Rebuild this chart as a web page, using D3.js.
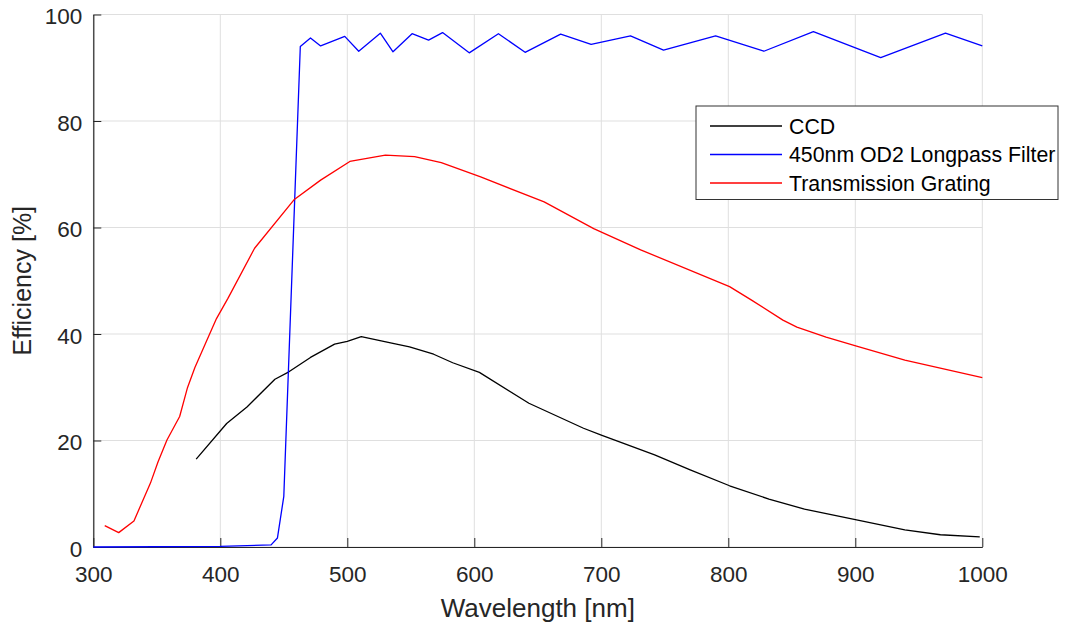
<!DOCTYPE html>
<html>
<head>
<meta charset="utf-8">
<script src="https://cdn.jsdelivr.net/npm/d3@7/dist/d3.min.js"></script>
<style>
  html, body { margin: 0; padding: 0; background: #fff; }
  svg { display: block; font-family: "Liberation Sans", Arial, Helvetica, sans-serif; }
</style>
</head>
<body>
<svg id="chart" width="1068" height="625"></svg>
<script>
// ---- data ----
const xTicks = [300, 400, 500, 600, 700, 800, 900, 1000];
const yTicks = [0, 20, 40, 60, 80, 100];

const ccdWl  = [381, 405, 421, 443, 454, 471, 490, 500, 511, 535, 549, 568, 583, 604, 643, 686, 700, 742, 770, 801, 832, 860, 901, 939, 967, 998];
const ccdEff = [16.5, 23.2, 26.3, 31.5, 32.9, 35.6, 38.1, 38.6, 39.5, 38.3, 37.6, 36.2, 34.6, 32.8, 27.0, 22.3, 21.0, 17.3, 14.5, 11.5, 9.0, 7.1, 5.1, 3.2, 2.3, 1.9];

const filterWl  = [300, 400, 440, 445, 450, 463, 471, 479, 498, 509, 526, 536, 551, 564, 575, 596, 619, 640, 668, 692, 723, 749, 790, 828, 867, 920, 971, 1000];
const filterEff = [0.0, 0.1, 0.4, 1.7, 9.5, 94.0, 95.6, 94.1, 95.9, 93.1, 96.5, 93.0, 96.4, 95.2, 96.6, 92.8, 96.4, 92.9, 96.3, 94.4, 96.0, 93.3, 96.0, 93.1, 96.8, 91.9, 96.5, 94.1];

const gratingWl  = [309, 320, 332, 345, 351, 358, 368, 374, 380, 389, 397, 406, 427, 458, 479, 502, 530, 553, 574, 605, 655, 694, 731, 801, 818, 843, 854, 877, 901, 939, 1000];
const gratingEff = [4.0, 2.7, 4.9, 12.0, 16.0, 20.1, 24.5, 29.8, 33.7, 38.6, 42.9, 46.7, 56.1, 65.2, 68.9, 72.4, 73.6, 73.3, 72.2, 69.5, 64.8, 59.8, 55.8, 48.9, 46.4, 42.6, 41.3, 39.4, 37.7, 35.1, 31.8];

const seriesNames  = ["CCD", "450nm OD2 Longpass Filter", "Transmission Grating"];
const seriesColors = ["#000000", "#0000ff", "#ff0000"];
const xLabel = "Wavelength [nm]";
const yLabel = "Efficiency [%]";

// ---- drawing ----
const svg = d3.select("#chart");
const axisColor = "#262626";
const gridColor = "#dfdfdf";

const x = d3.scaleLinear().domain([300, 1000]).range([93.3, 982.3]);
const y = d3.scaleLinear().domain([0, 100]).range([547, 14.5]);

// grid
const grid = svg.append("g");
grid.selectAll("line.vx").data(xTicks).join("line")
  .attr("x1", d => x(d)).attr("x2", d => x(d))
  .attr("y1", y(0)).attr("y2", y(100))
  .attr("stroke", gridColor).attr("stroke-width", 1);
grid.selectAll("line.hy").data(yTicks).join("line")
  .attr("y1", d => y(d)).attr("y2", d => y(d))
  .attr("x1", x(300)).attr("x2", x(1000))
  .attr("stroke", gridColor).attr("stroke-width", 1);

// axes
const xAxis = svg.append("g").attr("transform", `translate(0,${y(0)})`)
  .call(d3.axisBottom(x).tickValues(xTicks).tickSizeInner(-9).tickSizeOuter(0).tickPadding(19).tickFormat(d3.format("d")));
const yAxis = svg.append("g").attr("transform", `translate(${x(300)},0)`)
  .call(d3.axisLeft(y).tickValues(yTicks).tickSizeInner(-8).tickSizeOuter(0).tickPadding(11).tickFormat(d3.format("d")));

[xAxis, yAxis].forEach(g => {
  g.attr("font-family", null).attr("font-size", null);
  g.select(".domain").attr("stroke", axisColor).attr("stroke-width", 1.2);
  g.selectAll(".tick line").attr("stroke", axisColor).attr("stroke-width", 1);
  g.selectAll(".tick text").attr("fill", axisColor).style("font-size", "22.5px");
});
yAxis.selectAll(".tick text").attr("dy", "0.42em");

// axis labels
svg.append("text")
  .attr("x", (x(300) + x(1000)) / 2).attr("y", 617)
  .attr("text-anchor", "middle").attr("fill", axisColor)
  .style("font-size", "26px").text(xLabel);
svg.append("text")
  .attr("transform", `translate(31,${(y(0) + y(100)) / 2}) rotate(-90)`)
  .attr("text-anchor", "middle").attr("fill", axisColor)
  .style("font-size", "25px").text(yLabel);

// lines
const line = d3.line().x(d => x(d[0])).y(d => y(d[1]));
const series = [
  d3.zip(ccdWl, ccdEff),
  d3.zip(filterWl, filterEff),
  d3.zip(gratingWl, gratingEff)
];
svg.append("g").selectAll("path").data(series).join("path")
  .attr("d", d => line(d))
  .attr("fill", "none")
  .attr("stroke", (d, i) => seriesColors[i])
  .attr("stroke-width", 1.3)
  .attr("stroke-linejoin", "round");

// legend
const lg = svg.append("g");
lg.append("rect")
  .attr("x", 696).attr("y", 106).attr("width", 362).attr("height", 93.5)
  .attr("fill", "#fff").attr("stroke", "#333").attr("stroke-width", 1);
const rowY = i => 126 + i * 28.5;
lg.selectAll("line").data(seriesNames).join("line")
  .attr("x1", 710).attr("x2", 782)
  .attr("y1", (d, i) => rowY(i)).attr("y2", (d, i) => rowY(i))
  .attr("stroke", (d, i) => seriesColors[i]).attr("stroke-width", 1.3);
lg.selectAll("text").data(seriesNames).join("text")
  .attr("x", 789).attr("y", (d, i) => rowY(i)).attr("dy", "0.36em")
  .attr("fill", "#000").style("font-size", "21.3px")
  .text(d => d);
</script>
</body>
</html>
